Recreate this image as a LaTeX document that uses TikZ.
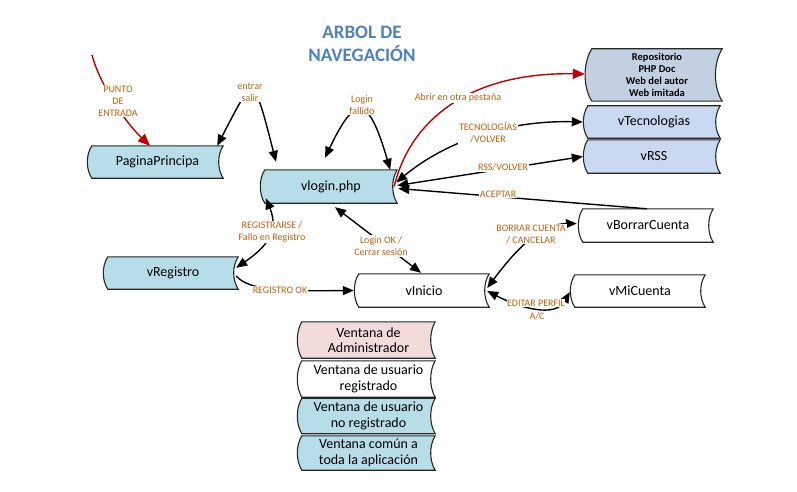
\documentclass[tikz,border=0pt]{standalone}
\usepackage{fontspec}
\setmainfont{Carlito}
\usetikzlibrary{arrows.meta,backgrounds,calc}
\definecolor{lblue}{HTML}{B7DEE8}
\definecolor{gblue}{HTML}{C2D1E1}
\definecolor{pblue}{HTML}{C9D9F0}
\definecolor{pinkf}{HTML}{F2DCDB}
\definecolor{lbl}{HTML}{C0600F}
\definecolor{ttl}{HTML}{4F81BD}
\definecolor{redl}{HTML}{C00000}
\newcommand\sdpath[4]{\path[draw=black!85,line width=1.1pt,fill=#2] (#1.north west) .. controls +(-#3,#4) and +(-#3,-#4) .. (#1.south west) -- (#1.south east) .. controls +(-#3,-#4) and +(-#3,#4) .. (#1.north east) -- cycle;}
\tikzset{
  box/.style={inner sep=0pt, align=center, font=\fontsize{14}{15.5}\selectfont},
  lab/.style={fill=white, text=lbl, font=\fontsize{10}{12}\selectfont, inner sep=1pt, align=center},
  conn/.style={line width=1.4pt, draw=black},
  redconn/.style={line width=1.4pt, draw=redl, -{Triangle[length=12pt,width=10pt]}},
  >={Triangle[length=11pt,width=9pt]},
}
\begin{document}
\begin{tikzpicture}[x=1pt,y=-1pt]
\useasboundingbox (0,0) rectangle (797,492);
% title
\node[font=\fontsize{19}{23}\selectfont\bfseries, text=ttl, align=center] (title) at (362,43.5) {ARBOL DE\\NAVEGACIÓN};
% nodes
\node[box, minimum width=131pt, minimum height=32pt] (pp) at (157.5,162) {PaginaPrincipa};
\node[box, minimum width=132pt, minimum height=33pt] (vl) at (331,186.5) {vlogin.php};
\node[box, minimum width=130pt, minimum height=52pt, font=\fontsize{10.5}{12}\selectfont\bfseries] (rep) at (657,75) {Repositorio\\PHP Doc\\Web del autor\\Web imitada};
\node[box, minimum width=132pt, minimum height=32pt] (vtec) at (654,122) {vTecnologias};
\node[box, minimum width=132pt, minimum height=33pt] (vrss) at (654,156.5) {vRSS};
\node[box, minimum width=130pt, minimum height=33pt] (vbc) at (648,225.5) {vBorrarCuenta};
\node[box, minimum width=130pt, minimum height=32pt] (vmc) at (640,291) {vMiCuenta};
\node[box, minimum width=130pt, minimum height=33pt] (vi) at (424,290.5) {vInicio};
\node[box, minimum width=130pt, minimum height=32pt] (vr) at (173,273) {vRegistro};
\node[box, minimum width=133pt, minimum height=36pt] (lg1) at (368.5,340) {Ventana de\\Administrador};
\node[box, minimum width=133pt, minimum height=36pt] (lg2) at (368.5,379) {Ventana de usuario\\registrado};
\node[box, minimum width=133pt, minimum height=35pt] (lg3) at (368.5,416) {Ventana de usuario\\no registrado};
\node[box, minimum width=133pt, minimum height=34pt] (lg4) at (368.5,453) {Ventana común a\\toda la aplicación};
\begin{scope}[on background layer]
\sdpath{pp}{lblue}{6}{9}
\sdpath{vl}{lblue}{6}{9}
\sdpath{rep}{gblue}{9}{14}
\sdpath{vtec}{pblue}{6}{9}
\sdpath{vrss}{pblue}{6}{9}
\sdpath{vbc}{white}{6}{9}
\sdpath{vmc}{white}{6}{9}
\sdpath{vi}{white}{6}{9}
\sdpath{vr}{lblue}{6}{9}
\sdpath{lg1}{pinkf}{6}{10}
\sdpath{lg2}{white}{6}{10}
\sdpath{lg3}{lblue}{6}{10}
\sdpath{lg4}{lblue}{6}{10}
\end{scope}
% connectors
\coordinate (pe) at (92,55);
\draw[redconn] (pe) .. controls (100,85) and (125,122) .. ([xshift=-7.5pt]pp.north);
\draw[conn,<->] ([xshift=-6pt]pp.north east) .. controls (254,75) and (253,72) .. ([xshift=-55pt,yshift=8pt]vl.north);
\draw[conn,<->] ([xshift=-6pt,yshift=12pt]vl.north) .. controls (355,95) and (368,93) .. ([xshift=-7pt]vl.north east);
\draw[redconn] ([xshift=-3pt]vl.east) .. controls (410,120) and (470,72) .. ([xshift=-7pt,yshift=1pt]rep.west);
\draw[conn,<->] ([xshift=-1pt,yshift=4pt]vl.east) .. controls (440,146) and (500,120) .. ([xshift=-5pt]vtec.west);
\draw[conn,<->] ([yshift=1pt]vl.east) -- ([xshift=-5pt]vrss.west);
\draw[conn,->] ([xshift=-1pt]vbc.north) -- ([xshift=1pt,yshift=-2pt]vl.east);
\draw[conn,<->] ([xshift=1pt,yshift=5pt]vl.south west) .. controls (280.6,233.8) and (262,250) .. ([xshift=-2pt,yshift=-11pt]vr.north east);
\draw[conn,<->] ([xshift=4pt,yshift=-4pt]vl.south) -- ([xshift=-3pt,yshift=1pt]vi.north);
\draw[conn,->] ([xshift=-2pt,yshift=-3pt]vr.east) .. controls (250,292) and (290,291) .. ([xshift=-5pt]vi.west);
\draw[conn,<->] ([xshift=-2pt,yshift=2.5pt]vi.east) .. controls (523,240) and (545,224) .. ([xshift=-6pt,yshift=2pt]vbc.west);
\draw[conn,<->] ([xshift=-2pt,yshift=-0.5pt]vi.east) .. controls (520,308) and (555,318) .. ([xshift=-5pt,yshift=-1pt]vmc.west);
% labels
\node[lab] (l1) at (118,101) {PUNTO\\DE\\ENTRADA};
\node[lab] (l2) at (250,92) {entrar\\salir};
\node[lab] (l3) at (362,105) {Login\\fallido};
\node[lab] (l4) at (458,98) {Abrir en otra pestaña};
\node[lab] (l5) at (488,133) {TECNOLOGÍAS\\/VOLVER};
\node[lab] (l6) at (503,167) {RSS/VOLVER};
\node[lab] (l7) at (498,194) {ACEPTAR};
\node[lab] (l8) at (272,232) {REGISTRARSE /\\Fallo en Registro};
\node[lab] (l9) at (381,246) {Login OK /\\Cerrar sesión};
\node[lab] (l10) at (280,290) {REGISTRO OK};
\node[lab] (l11) at (531,234) {BORRAR CUENTA\\/ CANCELAR};
\node[lab, inner sep=0.5pt] (l12) at (536,303) {EDITAR PERFIL};
\node[lab, inner sep=0.5pt] (l13) at (537,316) {A/C};
\end{tikzpicture}
\end{document}
